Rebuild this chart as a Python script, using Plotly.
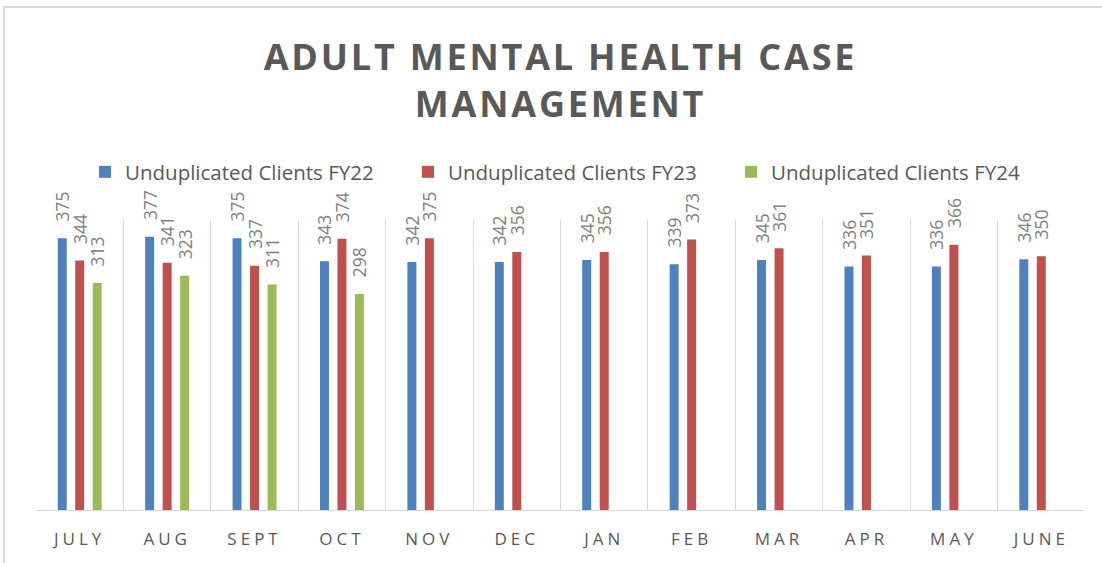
import plotly.graph_objects as go

months = ["JULY", "AUG", "SEPT", "OCT", "NOV", "DEC", "JAN", "FEB", "MAR", "APR", "MAY", "JUNE"]
fy22 = [375, 377, 375, 343, 342, 342, 345, 339, 345, 336, 336, 346]
fy23 = [344, 341, 337, 374, 375, 356, 356, 373, 361, 351, 366, 350]
fy24 = [313, 323, 311, 298, None, None, None, None, None, None, None, None]

series = [
    ("Unduplicated Clients FY22", fy22, "#4F81BD"),
    ("Unduplicated Clients FY23", fy23, "#C0504D"),
    ("Unduplicated Clients FY24", fy24, "#9BBB59"),
]

FONT = "Open Sans"
fig = go.Figure()
for name, vals, col in series:
    fig.add_trace(go.Bar(
        x=months, y=vals, name=name,
        marker=dict(color=col, line=dict(width=0)),
        texttemplate="\u00a0\u00a0\u00a0%{y}",
        textposition="outside",
        textangle=-90,
        constraintext="none",
        cliponaxis=False,
        textfont=dict(family=FONT, size=17.5, color="#808080"),
        hoverinfo="x+y+name",
    ))

fig.update_layout(
    width=1102, height=563,
    margin=dict(l=36, r=17, t=220, b=53),
    paper_bgcolor="white", plot_bgcolor="white",
    barmode="group", bargap=0.4, bargroupgap=0.486,
    title=dict(
        text="ADULT MENTAL HEALTH CASE<br>MANAGEMENT",
        x=0.5, xref="paper", xanchor="center",
        y=1 - 70 / 563, yref="container", yanchor="middle",
        font=dict(family=FONT, size=36, color="#595959", weight="bold"),
    ),
    legend=dict(
        orientation="h", x=0.5086, xanchor="center",
        y=(510 - 172) / 290, yanchor="middle",
        entrywidth=278, entrywidthmode="pixels",
        font=dict(family=FONT, size=20.5, color="#595959"),
        bgcolor="rgba(0,0,0,0)",
    ),
    xaxis=dict(
        type="category", tickson="boundaries", ticks="",
        showgrid=True, gridcolor="#D9D9D9", gridwidth=1,
        showline=True, linecolor="#D9D9D9", linewidth=1,
        tickfont=dict(family=FONT, size=17, color="#595959"),
        ticklabelstandoff=14,
        fixedrange=True,
    ),
    yaxis=dict(range=[0, 400], visible=False, showgrid=False, fixedrange=True),
    showlegend=True,
    shapes=[dict(
        type="rect", xref="paper", yref="paper",
        x0=(4 - 36) / 1049, x1=2, y0=-1, y1=(510 - 7) / 290,
        line=dict(color="#D9D9D9", width=2), fillcolor="rgba(0,0,0,0)", layer="below",
    )],
)

post_script = """
document.body.style.margin = '0';
document.body.style.overflow = 'hidden';
var gd = document.getElementById('{plot_id}');
function ls(){
  gd.querySelectorAll('.gtitle').forEach(function(e){e.style.letterSpacing='2.8px';});
  gd.querySelectorAll('.xtick text').forEach(function(e){e.style.letterSpacing='4px';});
}
ls();
if (gd.on) { gd.on('plotly_afterplot', ls); }
"""

fig.write_html("out.html", post_script=post_script, config={"displayModeBar": False})
